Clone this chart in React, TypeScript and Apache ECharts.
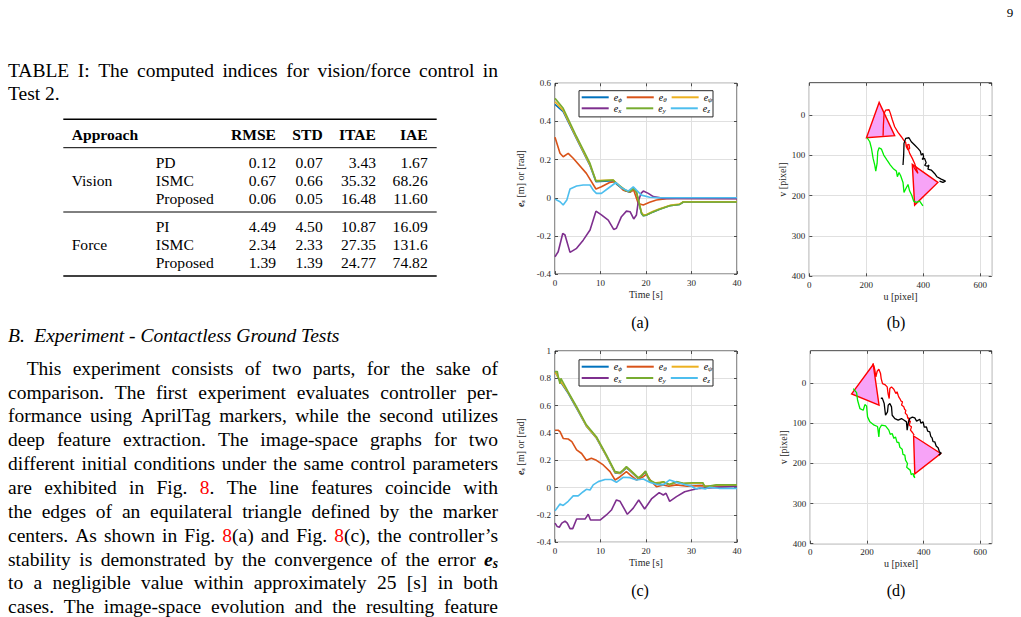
import React, { useEffect, useRef } from 'react';
import * as echarts from 'echarts';

const FONT = 'Liberation Serif';
const TXT = '#000000';
const REF_RED = '#ff0000';
const AX = '#262626';
const GRIDC = '#e0e0e0';

// ---------- error plots: legend names / colours ----------
const ERR_NAMES = ['eϕ', 'eθ', 'eψ', 'ex', 'ey', 'ez'];
const ERR_COLORS = ['#0072BD', '#D95319', '#EDB120', '#7E2F8E', '#77AC30', '#4DBEEE'];

// ---------- (a) errors, [t, value] ----------
const aEphi = [[0,0.49],[1.8,0.452],[4.75,0.308],[7.7,0.168],[9,0.084],[12.8,0.089],[13.5,0.072],[15.4,0.037],[16.5,0.029],[17.3,0.047],[17.9,0.027],[19,-0.082],[19.4,-0.094],[20.1,-0.091],[21.6,-0.074],[23,-0.06],[25.2,-0.042],[27.4,-0.035],[28.2,-0.022],[40,-0.022]];
const aEtheta = [[0,0.317],[1.1,0.233],[1.8,0.215],[2.9,0.233],[4,0.207],[6.9,0.128],[9,0.046],[10.2,0.058],[12,0.08],[13.2,0.084],[15,0.04],[16.5,0.03],[17.3,0.04],[18.3,-0.03],[19.4,-0.038],[20.8,-0.024],[22.3,-0.012],[24.5,-0.005],[26.7,-0.003],[40,-0.003]];
const aEpsi = [[0,0.503],[1.8,0.458],[4.75,0.312],[7.7,0.172],[9,0.09],[12.8,0.093],[13.5,0.077],[15.4,0.041],[16.5,0.033],[17.3,0.05],[17.9,0.03],[19,-0.075],[19.4,-0.089],[20.1,-0.088],[21.6,-0.071],[23,-0.057],[25.2,-0.04],[27.4,-0.033],[28.2,-0.021],[40,-0.021]];
const aEx = [[0,-0.309],[0.7,-0.283],[1.7,-0.187],[2.2,-0.195],[3.3,-0.286],[4.75,-0.265],[6.2,-0.222],[7.7,-0.169],[9,-0.07],[10.2,-0.09],[11.7,-0.117],[12.9,-0.166],[13.5,-0.16],[14.6,-0.099],[15.7,-0.07],[16.5,-0.073],[17.3,-0.111],[17.9,-0.09],[18.3,-0.02],[18.9,0.023],[19.4,0.035],[20.5,0.023],[21.6,0.006],[23.8,-0.003],[40,-0.005]];
const aEy = [[0,0.521],[1.8,0.469],[4.75,0.32],[7.7,0.18],[9,0.088],[12.8,0.093],[13.5,0.075],[15.4,0.04],[16.5,0.032],[17.3,0.05],[17.9,0.03],[19,-0.08],[19.4,-0.094],[20.1,-0.09],[21.6,-0.073],[23,-0.06],[25.2,-0.042],[27.4,-0.035],[28.2,-0.022],[40,-0.022]];
const aEz = [[0,-0.007],[1.1,-0.021],[1.8,-0.038],[2.6,-0.012],[3.3,0.046],[4.75,0.062],[6.2,0.067],[7.7,0.067],[8.4,0.04],[9.1,0.023],[10.2,0.023],[11.7,0.05],[13.4,0.08],[14.6,0.053],[16.1,0.035],[17.2,0.057],[17.9,0.04],[19,0.014],[20.8,0.003],[23,0],[40,0]];

// ---------- (c) errors ----------
const cEphi = [[0,0.85],[1.1,0.78],[2.9,0.69],[4.75,0.58],[6.9,0.45],[9.1,0.363],[11.3,0.23],[13.2,0.108],[14.3,0.103],[15.7,0.145],[16.5,0.123],[18.3,0.066],[19.9,0.114],[20.8,0.05],[21.9,0.03],[23.8,0.04],[25.2,0.02],[26.7,0.04],[28.2,0.028],[32.5,0.032],[32.9,0.005],[35.5,0.016],[40,0.016]];
const cEtheta = [[0,0.42],[0.7,0.42],[1.1,0.41],[1.8,0.36],[2.9,0.356],[3.7,0.337],[4.75,0.276],[5.85,0.25],[6.9,0.2],[8,0.215],[9.1,0.2],[10.6,0.166],[12.1,0.117],[13.2,0.056],[14.3,0.08],[15.7,0.117],[16.5,0.093],[17.9,0.056],[19.4,0.08],[20.1,0.097],[21.2,0.044],[22.3,0.007],[23.8,0.02],[25,0.01],[26.7,0.02],[29,0.01],[32,0.015],[35,0.005],[40,0.01]];
const cEpsi = [[0,0.845],[1.1,0.785],[2.9,0.695],[4.75,0.585],[6.9,0.452],[9.1,0.366],[11.3,0.233],[13.2,0.112],[14.3,0.106],[15.7,0.148],[16.5,0.126],[18.3,0.07],[19.9,0.118],[20.8,0.053],[21.9,0.033],[23.8,0.042],[25.2,0.022],[26.7,0.042],[28.2,0.03],[32.5,0.034],[32.9,0.006],[35.5,0.018],[40,0.018]];
const cEx = [[0,-0.26],[0.5,-0.285],[0.95,-0.29],[1.5,-0.26],[2.2,-0.245],[2.7,-0.26],[3.3,-0.3],[3.9,-0.3],[4.75,-0.23],[6.6,-0.23],[7.3,-0.195],[7.8,-0.237],[9.9,-0.237],[11.3,-0.2],[12.4,-0.164],[13.5,-0.09],[14.3,-0.1],[15.9,-0.195],[17.2,-0.15],[18.4,-0.09],[19.7,-0.156],[21.2,-0.083],[22.9,-0.036],[23.8,-0.054],[24.4,-0.041],[25.2,-0.1],[26.7,-0.066],[28.5,-0.03],[30,-0.017],[31.8,-0.005],[34.7,0],[40,0.01]];
const cEy = [[0,0.849],[0.5,0.85],[0.8,0.8],[1.1,0.76],[1.3,0.8],[2.9,0.7],[4.75,0.593],[6.9,0.46],[9.1,0.373],[11.3,0.24],[13.2,0.117],[14.3,0.11],[15,0.13],[15.7,0.154],[16.5,0.13],[18.3,0.073],[19,0.085],[19.9,0.122],[20.3,0.088],[20.8,0.056],[21.9,0.036],[23,0.032],[23.8,0.044],[25.2,0.024],[26.7,0.044],[28.2,0.032],[30.3,0.036],[32.5,0.036],[32.9,0.007],[35.5,0.02],[40,0.02]];
const cEz = [[0,-0.17],[1.1,-0.12],[1.8,-0.13],[2.9,-0.1],[4,-0.06],[5.1,-0.06],[6.2,-0.03],[6.9,-0.012],[7.7,-0.017],[8.4,0.02],[9.5,0.044],[11,0.06],[12.4,0.06],[13.5,0.039],[15,0.076],[16.5,0.073],[17.9,0.056],[19.4,0.063],[20.8,0.039],[22.3,0.024],[23.8,0.02],[25.2,0.056],[26.7,0.039],[28.9,0.02],[30,0.01],[31,-0.01],[31.8,0],[33,-0.01],[34,0.002],[36,-0.005],[40,-0.005]];

// ---------- (b) image-space, [u, v] ----------
const bTriangles = [
  [245, -31.4, 200.6, 56.3, 299.6, 51.3],
  [361.4, 122.4, 451.2, 167.1, 369.6, 223.3],
];
const bRed = [[258.9,51.3],[260,24.8],[262.4,-4.1],[268.2,-12.4],[279.8,-13.2],[284.5,-4.1],[291.5,12.4],[299.6,29],[311.3,43],[323,53.8],[331.1,62.1],[338.1,67.8],[340.4,78.6],[346.3,86.9],[352.1,82.7],[349.8,72.8],[342.8,74.5],[352.1,95.1],[361.4,107.5],[369.6,120],[375.4,132.4],[381.2,144.8],[373.1,136.5],[363.8,125.7]];
const bBlack = [[328.8,124.1],[331.1,99.3],[332.3,70.3],[338.1,57.9],[349.8,56.3],[357.9,66.2],[369.6,74.5],[381.2,82.7],[389.4,89.4],[392.9,99.3],[398.7,95.1],[401,104],[396,110],[404.5,107.5],[410,118],[405,125],[414,127],[419.7,124.1],[416.2,134],[427.8,136.5],[439.5,144.8],[447.7,153],[462.8,158.8],[478,163.8],[468.6,167.1],[457,163.8]];
const bGreen = [[202.9,56.3],[212.2,66.2],[218.1,82.7],[223.9,107.5],[229.7,124.1],[233.2,139],[237.9,120],[240.2,91],[244.9,81.1],[253,84.4],[261.2,99.3],[272.8,111.7],[284.5,124.1],[296.1,134],[305.5,139],[309,153],[314.8,142.3],[320.6,150.6],[328.8,167.1],[332.3,191.9],[338.1,183.6],[346.3,172.1],[352.1,188.6],[359.1,198.5],[366.1,213.4],[375.4,216.7],[387.1,213.4],[398.7,225]];

// ---------- (d) image-space ----------
const dTriangles = [
  [222, -46, 145.8, 27.3, 242.5, 55.4],
  [364.5, 132, 460.2, 175.5, 368.7, 226],
];
const dRed = [[219.6,-48.1],[224.3,-42.4],[227.8,-31.6],[231.4,-15],[236,-29.1],[241.9,-34.1],[247.8,-23.3],[250.1,-10.9],[254.8,1.5],[263,4],[271.3,9.8],[274,25],[278.3,38.8],[280.6,14],[286.5,9.8],[294.7,15.6],[301.8,26.4],[306,22],[310,30.5],[313,36],[315.9,38.8],[320,45],[325.3,47.1],[322,55],[329.9,59.5],[333,66],[337,67.8],[335,75],[341.7,80.2],[344,88],[348.7,86.8],[346,96],[353.4,95.1],[348.7,105.1],[357,109.2],[353.4,117.5],[360.5,123.3],[366.3,129.9]];
const dBlack = [[249,38.9],[253.7,37.2],[260.7,51.3],[265.4,80.3],[272.4,72],[274.8,55.4],[280.7,51.3],[286.5,59.6],[288.9,80.3],[298.3,88.6],[310,92.7],[321.7,88.6],[331.1,92.7],[339.3,96.8],[341.7,117.5],[345.2,101],[351.1,88.6],[360,85],[368.7,86.9],[375,95],[386.3,90.2],[390,100],[398,96.8],[402,110],[409.8,109.3],[414,120],[421.5,121.7],[425,133],[429.7,136.6],[433,146],[439.1,146.5],[444,157],[450.8,161.4],[455,170],[460.2,175.5],[453.2,179.7],[462.6,173]];
const dGreen = [[151.5,14],[163.3,24],[166.8,43],[175,63.7],[186.8,67.9],[192.6,53.8],[198.5,57.1],[202,84.4],[210.2,96.8],[225.5,105.1],[237.2,108.4],[241.9,134.1],[244.3,113.4],[251.3,105.1],[265.4,106.8],[277.1,117.5],[282,128],[288.9,125.8],[295,138],[300.6,134.1],[306,148],[312.3,148.2],[316,160],[324.1,164.8],[327,178],[333.5,179.7],[336,192],[342.9,200.4],[340,210],[352.3,216.9],[356,228],[362.8,225.2],[368.7,236],[362.8,229.4]];

// ---------- table ----------
const TABLE_HEADER = ['Approach', 'RMSE', 'STD', 'ITAE', 'IAE'];
const TABLE_GROUPS = ['Vision', 'Force'];
const TABLE_METHODS = [['PD', 'ISMC', 'Proposed'], ['PI', 'ISMC', 'Proposed']];
const TABLE_VALUES = [
  [['0.12', '0.07', '3.43', '1.67'], ['0.67', '0.66', '35.32', '68.26'], ['0.06', '0.05', '16.48', '11.60']],
  [['4.49', '4.50', '10.87', '16.09'], ['2.34', '2.33', '27.35', '131.6'], ['1.39', '1.39', '24.77', '74.82']],
];

// ---------- text ----------
const CAPTION_LINES = ['TABLE I: The computed indices for vision/force control in', 'Test 2.'];
const HEADING = ['B.', 'Experiment - Contactless Ground Tests'];
const BODY_LINES = [
  'This experiment consists of two parts, for the sake of',
  'comparison. The first experiment evaluates controller per-',
  'formance using AprilTag markers, while the second utilizes',
  'deep feature extraction. The image-space graphs for two',
  'different initial conditions under the same control parameters',
  'are exhibited in Fig. {r:8}. The line features coincide with',
  'the edges of an equilateral triangle defined by the marker',
  'centers. As shown in Fig. {r:8}(a) and Fig. {r:8}(c), the controller’s',
  'stability is demonstrated by the convergence of the error {es}',
  'to a negligible value within approximately 25 [s] in both',
  'cases. The image-space evolution and the resulting feature',
];
const SUB_CAPTIONS = ['(a)', '(b)', '(c)', '(d)'];

// ---------- layout ----------
const GRIDS = [
  { left: 555, top: 83.3, width: 182, height: 190.8 },
  { left: 809.3, top: 82.8, width: 182.4, height: 193.5 },
  { left: 555, top: 351, width: 182, height: 191.3 },
  { left: 810.3, top: 350.8, width: 181.4, height: 192.9 },
];
const BODY_SIZE = 19.5;
const TABLE_SIZE = 15.6;

type Seg = { t: string; font: string; color: string; dy: number };

function parseWord(w: string, size: number): Seg[] {
  const segs: Seg[] = [];
  const re = /\{r:([^}]*)\}|\{es\}|([^{]+)/g;
  let m: RegExpExecArray | null;
  const plain = `${size}px "${FONT}"`;
  while ((m = re.exec(w))) {
    if (m[1] !== undefined) segs.push({ t: m[1], font: plain, color: REF_RED, dy: 0 });
    else if (m[0] === '{es}') {
      segs.push({ t: 'e', font: `italic bold ${size}px "${FONT}"`, color: TXT, dy: 0 });
      segs.push({ t: 's', font: `italic bold ${(size * 0.7).toFixed(1)}px "${FONT}"`, color: TXT, dy: size * 0.24 });
    } else segs.push({ t: m[2], font: plain, color: TXT, dy: 0 });
  }
  return segs;
}

function textEl(x: number, y: number, text: string, font: string, fill = TXT, align = 'left') {
  return {
    type: 'text', x, y, silent: true, z: 10,
    style: { text, font, fill, align, textAlign: align, verticalAlign: 'middle', textVerticalAlign: 'middle' },
  };
}

function layoutLine(ctx: CanvasRenderingContext2D, line: string, y: number, x0: number, x1: number, justify: boolean, size: number) {
  const words = line.split(' ').map((w) => parseWord(w, size));
  const segW = (g: Seg) => { ctx.font = g.font; return ctx.measureText(g.t).width; };
  const widths = words.map((segs) => segs.reduce((s, g) => s + segW(g), 0));
  const total = widths.reduce((a, b) => a + b, 0);
  ctx.font = `${size}px "${FONT}"`;
  const natural = ctx.measureText(' ').width;
  const gap = justify && words.length > 1 ? (x1 - x0 - total) / (words.length - 1) : natural;
  const els: any[] = [];
  let x = x0;
  words.forEach((segs, i) => {
    let sx = x;
    segs.forEach((g) => {
      els.push(textEl(sx, y + g.dy, g.t, g.font, g.color));
      sx += segW(g);
    });
    x += widths[i] + gap;
  });
  return els;
}

function buildGraphics() {
  const cv = document.createElement('canvas');
  const ctx = cv.getContext('2d') as CanvasRenderingContext2D;
  const els: any[] = [];
  const X0 = 8, X1 = 498;
  els.push(...layoutLine(ctx, CAPTION_LINES[0], 70, X0, X1, true, BODY_SIZE));
  els.push(...layoutLine(ctx, CAPTION_LINES[1], 93.3, X0, X1, false, BODY_SIZE));
  const tf = `${TABLE_SIZE}px "${FONT}"`;
  const tfb = `bold ${TABLE_SIZE}px "${FONT}"`;
  const colRight = [276, 322.7, 376, 427.7];
  els.push({ type: 'line', silent: true, z: 10, shape: { x1: 63.3, y1: 119.3, x2: 436.7, y2: 119.3 }, style: { stroke: '#000', lineWidth: 1.6 } });
  els.push({ type: 'line', silent: true, z: 10, shape: { x1: 63.3, y1: 147.7, x2: 436.7, y2: 147.7 }, style: { stroke: '#000', lineWidth: 1 } });
  els.push({ type: 'line', silent: true, z: 10, shape: { x1: 63.3, y1: 212, x2: 436.7, y2: 212 }, style: { stroke: '#000', lineWidth: 1 } });
  els.push({ type: 'line', silent: true, z: 10, shape: { x1: 63.3, y1: 276, x2: 436.7, y2: 276 }, style: { stroke: '#000', lineWidth: 1.6 } });
  els.push(textEl(71.7, 134.3, TABLE_HEADER[0], tfb));
  TABLE_HEADER.slice(1).forEach((h, i) => els.push(textEl(colRight[i], 134.3, h, tfb, TXT, 'right')));
  const groupTop = [162.3, 226];
  TABLE_GROUPS.forEach((g, gi) => {
    const y0 = groupTop[gi];
    els.push(textEl(71.7, y0 + 18.1, g, tf));
    TABLE_METHODS[gi].forEach((mth, ri) => {
      const y = y0 + ri * 18.1;
      els.push(textEl(155.7, y, mth, tf));
      TABLE_VALUES[gi][ri].forEach((v, ci) => els.push(textEl(colRight[ci], y, v, tf, TXT, 'right')));
    });
  });
  els.push(textEl(8, 335, HEADING[0], `italic ${BODY_SIZE}px "${FONT}"`));
  els.push(textEl(34.3, 335, HEADING[1], `italic ${BODY_SIZE}px "${FONT}"`));
  BODY_LINES.forEach((ln, i) => {
    els.push(...layoutLine(ctx, ln, 368.3 + i * 23.84, i === 0 ? 26.7 : X0, X1, true, BODY_SIZE));
  });
  const capPos = [[640, 322], [896, 322], [640, 590], [896, 590]];
  SUB_CAPTIONS.forEach((c, i) => els.push(textEl(capPos[i][0], capPos[i][1], c, `16px "${FONT}"`, TXT, 'center')));
  els.push(textEl(1010, 12, '9', `13px "${FONT}"`, TXT, 'center'));
  [[579, 90.7], [579, 359.8]].forEach(([x, y]) => {
    els.push({ type: 'rect', silent: true, z: 5, shape: { x, y, width: 134, height: 26.2 }, style: { fill: '#fff', stroke: AX, lineWidth: 1 } });
  });
  return els;
}

const tickStyle = { inside: true, length: 3, lineStyle: { color: AX, width: 0.8 } };
const hiddenLine = { show: false, onZero: false };
const labelStyle = { fontSize: 9, color: AX, fontFamily: FONT, margin: 4 };
const nameStyle = {
  fontSize: 10, color: AX, fontFamily: FONT,
  rich: {
    e: { fontSize: 10, fontStyle: 'italic', fontWeight: 'bold', fontFamily: FONT, lineHeight: 12, color: AX },
    s: { fontSize: 7, fontStyle: 'italic', fontWeight: 'bold', fontFamily: FONT, lineHeight: 6, verticalAlign: 'bottom', color: AX },
  },
};

function bottomX(gi: number, kind: 'time' | 'u') {
  const base: any = {
    type: 'value', gridIndex: gi, position: 'bottom',
    axisLine: hiddenLine, axisTick: tickStyle,
    axisLabel: { ...labelStyle }, splitLine: { show: true, lineStyle: { color: GRIDC, width: 1 } },
    nameLocation: 'middle', nameTextStyle: nameStyle,
  };
  if (kind === 'time') return { ...base, min: 0, max: 40, interval: 10, name: 'Time [s]', nameGap: 15 };
  return { ...base, min: 0, max: 640, interval: 200, name: 'u [pixel]', nameGap: 15, axisLabel: { ...labelStyle, showMaxLabel: false } };
}
function topX(gi: number, kind: 'time' | 'u') {
  return {
    type: 'value', gridIndex: gi, position: 'top', min: 0, max: kind === 'time' ? 40 : 640, interval: kind === 'time' ? 10 : 200,
    axisLine: hiddenLine, axisTick: tickStyle, axisLabel: { show: false }, splitLine: { show: false },
  };
}
function leftY(gi: number, kind: 'a' | 'c' | 'v') {
  const base: any = {
    type: 'value', gridIndex: gi, position: 'left',
    axisLine: hiddenLine, axisTick: tickStyle,
    axisLabel: { ...labelStyle }, splitLine: { show: true, lineStyle: { color: GRIDC, width: 1 } },
    nameLocation: 'middle', nameTextStyle: nameStyle,
  };
  if (kind === 'a') return { ...base, min: -0.4, max: 0.6, interval: 0.2, name: '{e|e}{s|s} [m] or [rad]', nameGap: 29 };
  if (kind === 'c') return { ...base, min: -0.4, max: 1, interval: 0.2, name: '{e|e}{s|s} [m] or [rad]', nameGap: 29 };
  return { ...base, min: -80, max: 400, minInterval: 100, maxInterval: 100, inverse: true, name: 'v [pixel]', nameGap: 21, axisLabel: { ...labelStyle, showMinLabel: false } };
}
function rightY(gi: number, kind: 'a' | 'c' | 'v') {
  const base: any = { type: 'value', gridIndex: gi, position: 'right', axisLine: hiddenLine, axisTick: tickStyle, axisLabel: { show: false }, splitLine: { show: false } };
  if (kind === 'a') return { ...base, min: -0.4, max: 0.6, interval: 0.2 };
  if (kind === 'c') return { ...base, min: -0.4, max: 1, interval: 0.2 };
  return { ...base, min: -80, max: 400, minInterval: 100, maxInterval: 100, inverse: true };
}

function errSeries(gi: number, sets: number[][][]) {
  return sets.map((d, i) => ({
    type: 'line', name: ERR_NAMES[i], xAxisIndex: gi, yAxisIndex: gi, data: d,
    showSymbol: false, symbol: 'none', clip: true,
    lineStyle: { color: ERR_COLORS[i], width: 1.6 }, itemStyle: { color: ERR_COLORS[i] },
  }));
}

function imgSeries(gi: number, tris: number[][], red: number[][], black: number[][], green: number[][]) {
  return [
    {
      type: 'custom', name: 'triangles' + gi, xAxisIndex: gi, yAxisIndex: gi, data: tris,
      encode: { x: [0, 2, 4], y: [1, 3, 5] },
      renderItem: (_p: any, api: any) => {
        const pts = [0, 1, 2].map((k) => api.coord([api.value(2 * k), api.value(2 * k + 1)]));
        return { type: 'polygon', shape: { points: pts }, style: { fill: '#f7a3f7', stroke: '#ff0000', lineWidth: 1.4 } };
      },
    },
    ...[[red, '#ff0000'], [black, '#000000'], [green, '#00ee00']].map(([d, c]: any, k) => ({
      type: 'line', name: 'traj' + gi + '_' + k, xAxisIndex: gi, yAxisIndex: gi, data: d,
      showSymbol: false, symbol: 'none', clip: true,
      lineStyle: { color: c, width: 1.3 }, itemStyle: { color: c },
    })),
  ];
}

function legendRow(names: string[], left: number, top: number) {
  return {
    data: names, left, top, orient: 'horizontal', padding: 0, itemGap: 5,
    itemWidth: 27, itemHeight: 2, icon: 'rect', selectedMode: false, z: 6,
    formatter: (n: string) => `{e|e}{s|${n.slice(1)}}`,
    textStyle: {
      color: '#000', fontFamily: FONT,
      rich: {
        e: { fontSize: 10, fontStyle: 'italic', fontFamily: FONT, lineHeight: 12, color: '#000' },
        s: { fontSize: 7, fontStyle: 'italic', fontFamily: FONT, lineHeight: 6, verticalAlign: 'bottom', color: '#000' },
      },
    },
  };
}

function buildOption() {
  return {
    animation: false,
    backgroundColor: '#ffffff',
    grid: GRIDS.map((g) => ({ ...g, show: true, borderColor: AX, borderWidth: 1, backgroundColor: 'transparent', containLabel: false })),
    xAxis: [bottomX(0, 'time'), bottomX(1, 'u'), bottomX(2, 'time'), bottomX(3, 'u'), topX(0, 'time'), topX(1, 'u'), topX(2, 'time'), topX(3, 'u')],
    yAxis: [leftY(0, 'a'), leftY(1, 'v'), leftY(2, 'c'), leftY(3, 'v'), rightY(0, 'a'), rightY(1, 'v'), rightY(2, 'c'), rightY(3, 'v')],
    legend: [
      legendRow(ERR_NAMES.slice(0, 3), 581.7, 92.3),
      legendRow(ERR_NAMES.slice(3), 581.7, 103.3),
      legendRow(ERR_NAMES.slice(0, 3), 581.7, 361.7),
      legendRow(ERR_NAMES.slice(3), 581.7, 373),
    ],
    series: [
      ...errSeries(0, [aEphi, aEtheta, aEpsi, aEx, aEy, aEz]),
      ...errSeries(2, [cEphi, cEtheta, cEpsi, cEx, cEy, cEz]),
      ...imgSeries(1, bTriangles, bRed, bBlack, bGreen),
      ...imgSeries(3, dTriangles, dRed, dBlack, dGreen),
    ],
    graphic: { elements: buildGraphics() },
  };
}

export default function App() {
  const ref = useRef<HTMLDivElement>(null);
  useEffect(() => {
    const chart = echarts.init(ref.current as HTMLDivElement, null, { renderer: 'svg' });
    chart.setOption(buildOption() as any);
    return () => chart.dispose();
  }, []);
  return <div ref={ref} style={{ position: 'absolute', left: 0, top: 0, width: 1021, height: 617, background: '#fff' }} />;
}
